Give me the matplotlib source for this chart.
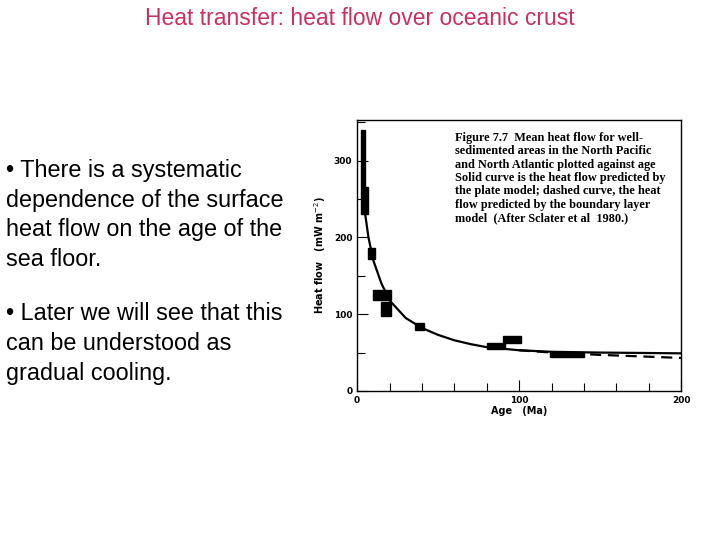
import matplotlib
matplotlib.use('Agg')
import matplotlib.pyplot as plt
from matplotlib.patches import Rectangle
from matplotlib.ticker import MultipleLocator

# data boxes: (age_min, age_max, flow_min, flow_max)
box_age_lo = [2.5, 3.5, 7, 10, 15, 36, 80, 90, 119]
box_age_hi = [5, 7, 11, 21, 21, 41, 91, 101, 140]
box_flow_lo = [230, 230, 172, 118, 98, 79, 54, 63, 44]
box_flow_hi = [340, 265, 186, 131, 116, 89, 62, 71, 51]

# plate model (solid) and boundary layer model (dashed)
plate_age = [5, 7, 10, 15, 20, 30, 40, 50, 60, 70, 80, 90, 100, 120, 150, 200]
plate_flow = [230, 200, 170, 140, 118, 95, 82, 73, 66, 61, 57, 55, 53, 51, 50, 49]
bl_age = [100, 120, 150, 175, 200]
bl_flow = [53, 50, 47, 45, 43]

fig = plt.figure(figsize=(7.2, 5.4), dpi=100, facecolor='white')
fig.text(0.5, 0.966, "Heat transfer: heat flow over oceanic crust", ha='center', va='center',
         fontsize=16.5, color='#C8325E', family='Liberation Sans')
fig.text(0.008, 0.706, "• There is a systematic\ndependence of the surface\nheat flow on the age of the\nsea floor.",
         ha='left', va='top', fontsize=16.8, family='Liberation Sans', linespacing=1.38)
fig.text(0.008, 0.441, "• Later we will see that this\ncan be understood as\ngradual cooling.",
         ha='left', va='top', fontsize=16.8, family='Liberation Sans', linespacing=1.38)

ax = fig.add_axes([0.496, 0.276, 0.45, 0.502])
ax.set_xlim(0, 200)
ax.set_ylim(0, 353)
for lo, hi, flo, fhi in zip(box_age_lo, box_age_hi, box_flow_lo, box_flow_hi):
    ax.add_patch(Rectangle((lo, flo), hi - lo, fhi - flo, color='black'))
ax.plot(plate_age, plate_flow, color='black', lw=1.6)
ax.plot(bl_age, bl_flow, color='black', lw=1.6, ls=(0, (5, 3)))

ax.xaxis.set_major_locator(MultipleLocator(100))
ax.xaxis.set_minor_locator(MultipleLocator(20))
ax.yaxis.set_major_locator(MultipleLocator(100))
ax.yaxis.set_minor_locator(MultipleLocator(50))
ax.tick_params(which='both', direction='in', labelsize=6.5, width=0.8)
ax.tick_params(which='major', length=8)
ax.tick_params(which='minor', length=6)
for lab in ax.get_xticklabels() + ax.get_yticklabels():
    lab.set_fontweight('bold')
ax.set_xlabel("Age   (Ma)", fontsize=7, fontweight='bold', labelpad=1)
ax.set_ylabel("Heat flow   (mW m$^{-2}$)", fontsize=7, fontweight='bold', labelpad=4)
for s in ax.spines.values():
    s.set_linewidth(1.0)

ax.text(0.303, 0.955, "Figure 7.7  Mean heat flow for well-\nsedimented areas in the North Pacific\n"
        "and North Atlantic plotted against age\nSolid curve is the heat flow predicted by\n"
        "the plate model; dashed curve, the heat\nflow predicted by the boundary layer\n"
        "model  (After Sclater et al  1980.)",
        transform=ax.transAxes, ha='left', va='top', fontsize=8.8, family='Liberation Serif',
        fontweight='bold', linespacing=1.15)

fig.savefig('out.png', dpi=100, facecolor='white')
